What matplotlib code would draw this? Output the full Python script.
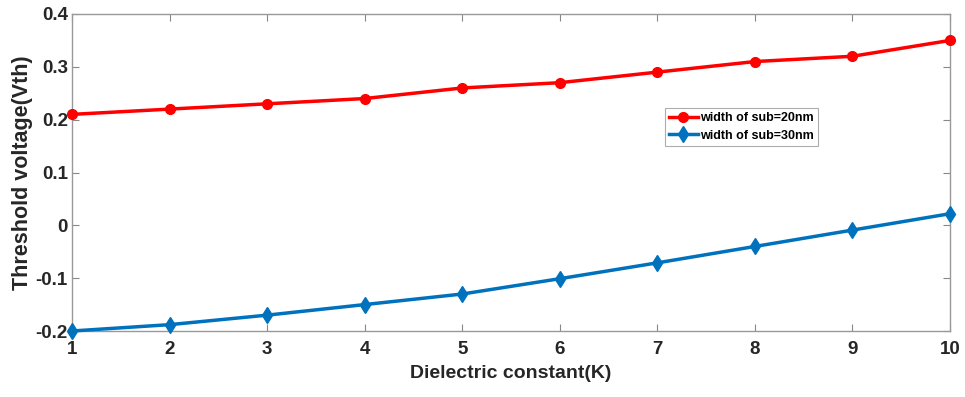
import numpy as np
import matplotlib
matplotlib.use("Agg")
import matplotlib.pyplot as plt

k = [1, 2, 3, 4, 5, 6, 7, 8, 9, 10]
vth_20nm = [0.21, 0.22, 0.23, 0.24, 0.26, 0.27, 0.29, 0.31, 0.32, 0.35]
vth_30nm = [-0.20, -0.188, -0.17, -0.15, -0.13, -0.101, -0.071, -0.04, -0.009, 0.022]

plt.rcParams['font.family'] = ['Liberation Sans', 'DejaVu Sans']
plt.rcParams['font.weight'] = 'bold'

fig = plt.figure(figsize=(9.65, 3.97), dpi=100)
ax = fig.add_axes([72/965, 1 - 331/397, 878/965, 317/397])

ax.plot(k, vth_20nm, color='#ff0000', lw=2.5, marker='o', ms=7, label='width of sub=20nm', clip_on=False, zorder=3)
ax.plot(k, vth_30nm, color='#0072bd', lw=2.5, marker='d', ms=8, label='width of sub=30nm', clip_on=False, zorder=3)

ax.set_xlim(1, 10)
ax.set_ylim(-0.2, 0.4)
ax.set_xticks(k)
ax.set_yticks([-0.2, -0.1, 0, 0.1, 0.2, 0.3, 0.4])
ax.set_yticklabels(['-0.2', '-0.1', '0', '0.1', '0.2', '0.3', '0.4'])
ax.tick_params(direction='in', top=True, right=True, length=5, color='#888888',
               labelsize=13.5, labelcolor='#262626')
ax.tick_params(axis='x', pad=7)
ax.tick_params(axis='y', pad=3)
for s in ax.spines.values():
    s.set_color('#999999')
    s.set_linewidth(1.0)

ax.set_xlabel('Dielectric constant(K)', fontsize=14, fontweight='bold', color='#262626', labelpad=5)
ax.set_ylabel('Threshold voltage(Vth)', fontsize=15.5, fontweight='bold', color='#262626', labelpad=2)

leg = ax.legend(loc='upper left', bbox_to_anchor=(0.675, 0.705), fontsize=9, frameon=True,
                fancybox=False, borderpad=0.35, handlelength=2.3, handletextpad=0.2,
                labelspacing=0.45, borderaxespad=0)
leg.get_frame().set_edgecolor('#999999')
leg.get_frame().set_linewidth(0.8)

fig.savefig('out.png', dpi=100)
